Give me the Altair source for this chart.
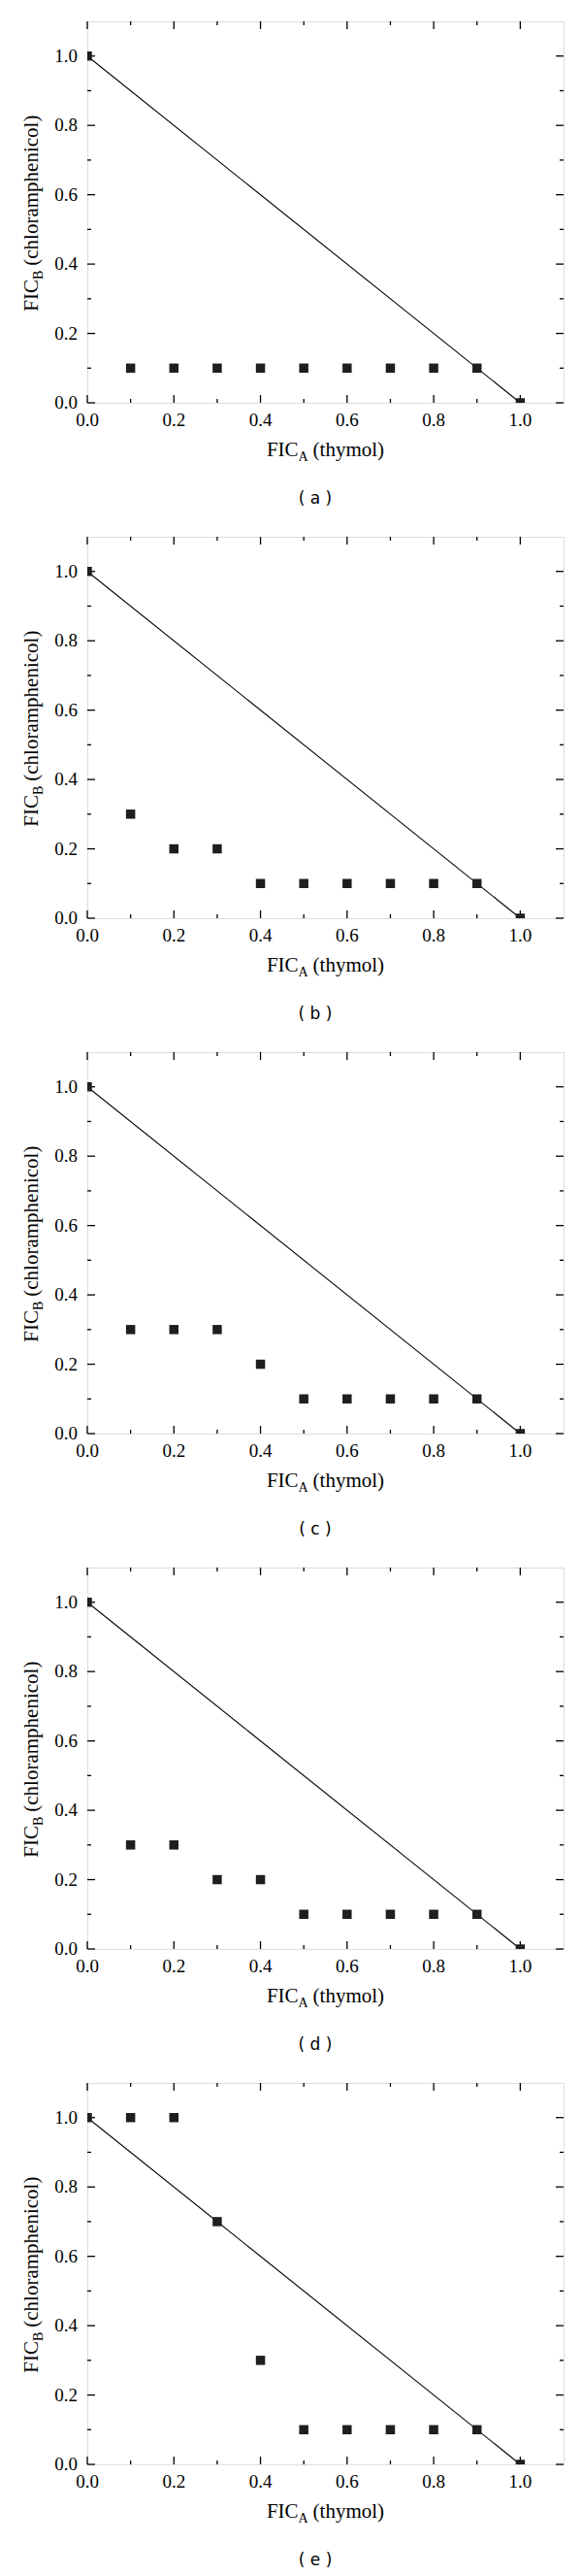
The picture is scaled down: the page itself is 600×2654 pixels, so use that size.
import altair as alt
import pandas as pd

# ---- data ----
fic_a = [0.0, 0.1, 0.2, 0.3, 0.4, 0.5, 0.6, 0.7, 0.8, 0.9, 1.0]
fic_b_a = [1.0, 0.1, 0.1, 0.1, 0.1, 0.1, 0.1, 0.1, 0.1, 0.1, 0.0]
fic_b_b = [1.0, 0.3, 0.2, 0.2, 0.1, 0.1, 0.1, 0.1, 0.1, 0.1, 0.0]
fic_b_c = [1.0, 0.3, 0.3, 0.3, 0.2, 0.1, 0.1, 0.1, 0.1, 0.1, 0.0]
fic_b_d = [1.0, 0.3, 0.3, 0.2, 0.2, 0.1, 0.1, 0.1, 0.1, 0.1, 0.0]
fic_b_e = [1.0, 1.0, 1.0, 0.7, 0.3, 0.1, 0.1, 0.1, 0.1, 0.1, 0.0]
captions = ["( a )", "( b )", "( c )", "( d )", "( e )"]

line_x = [0.0, 1.0]
line_y = [1.0, 0.0]
major_ticks = [0.0, 0.2, 0.4, 0.6, 0.8, 1.0]
minor_ticks = [0.1, 0.3, 0.5, 0.7, 0.9]
tick_labels = [0.0, 0.2, 0.4, 0.6, 0.8, 1.0]
x_title_parts = ["FIC", "A", "(thymol)"]
y_title_parts = ["FIC", "B", "(chloramphenicol)"]

W, H = 491, 393
SERIF = "Liberation Serif"
SANS = "DejaVu Sans"
INK = "#1e1e1e"

x_scale = alt.Scale(domain=[0, 1.1], nice=False, zero=False)
y_scale = alt.Scale(domain=[0, 1.1], nice=False, zero=False)


def xe(f):
    return alt.X(f"{f}:Q", scale=x_scale, axis=None)


def ye(f):
    return alt.Y(f"{f}:Q", scale=y_scale, axis=None)


def text_layer(s, size, font, x, y, align, angle=0, dy=0, baseline="alphabetic"):
    kw = dict(fontSize=size, font=font, align=align, baseline=baseline,
              color="black", dy=dy)
    if angle:
        kw["angle"] = angle
    return alt.Chart(pd.DataFrame({"s": [s]})).mark_text(**kw).encode(
        text="s:N", x=alt.value(x), y=alt.value(y))


def panel(ys, caption):
    pts = pd.DataFrame({"x": fic_a, "y": ys})
    line = pd.DataFrame({"x": line_x, "y": line_y})
    maj = pd.DataFrame({"t": major_ticks})
    mnr = pd.DataFrame({"t": minor_ticks})
    lab = pd.DataFrame({"t": tick_labels})

    layers = []
    # ticks inside on all four sides
    for df, ln in ((maj, 8), (mnr, 4)):
        layers.append(alt.Chart(df).mark_rule(color="black", strokeWidth=1.3).encode(
            x=xe("t"), y=alt.value(H), y2=alt.value(H - ln)))
        layers.append(alt.Chart(df).mark_rule(color="black", strokeWidth=1.3).encode(
            x=xe("t"), y=alt.value(0), y2=alt.value(ln)))
        layers.append(alt.Chart(df).mark_rule(color="black", strokeWidth=1.3).encode(
            y=ye("t"), x=alt.value(0), x2=alt.value(ln)))
        layers.append(alt.Chart(df).mark_rule(color="black", strokeWidth=1.3).encode(
            y=ye("t"), x=alt.value(W), x2=alt.value(W - ln)))

    # tick labels
    layers.append(alt.Chart(lab).mark_text(font=SERIF, fontSize=19, color="black",
                                           align="center", baseline="top").encode(
        x=xe("t"), y=alt.value(H + 9), text=alt.Text("t:Q", format=".1f")))
    layers.append(alt.Chart(lab).mark_text(font=SERIF, fontSize=19, color="black",
                                           align="right", baseline="middle").encode(
        y=ye("t"), x=alt.value(-10), text=alt.Text("t:Q", format=".1f")))

    layers.append(alt.Chart(line).mark_line(color="black", strokeWidth=1.1).encode(
        x=xe("x"), y=ye("y")))
    layers.append(alt.Chart(pts).mark_square(size=90, color=INK, opacity=1,
                                             filled=True, clip=True).encode(
        x=xe("x"), y=ye("y")))

    # x title: FIC_A (thymol)
    xa = 217.6
    layers.append(text_layer(x_title_parts[0], 21, SERIF, xa, H + 55, "right"))
    layers.append(text_layer(x_title_parts[1], 14, SERIF, xa, H + 55, "left", dy=5))
    layers.append(text_layer(x_title_parts[2], 21, SERIF, xa + 15, H + 55, "left"))

    # y title: FIC_B (chloramphenicol)
    ya = 266
    yx = -51
    layers.append(text_layer(y_title_parts[0], 21, SERIF, yx, ya, "right", angle=270))
    layers.append(text_layer(y_title_parts[1], 14, SERIF, yx, ya, "left", angle=270, dy=5))
    layers.append(text_layer(y_title_parts[2], 21, SERIF, yx, ya - 14.3, "left", angle=270))

    # caption
    layers.append(text_layer(caption, 17, SANS, 235, H + 99, "center", baseline="middle"))

    return alt.layer(*layers).properties(width=W, height=H)


panels = [panel(v, c) for v, c in zip([fic_b_a, fic_b_b, fic_b_c, fic_b_d, fic_b_e], captions)]

chart = alt.vconcat(*panels, spacing=28).properties(
    padding={"left": 13, "top": 12, "right": 5, "bottom": 5}
).configure_view(stroke="black", strokeWidth=1.5).configure(background="white")

chart.save("out.html", embed_options={"renderer": "svg", "actions": False})
